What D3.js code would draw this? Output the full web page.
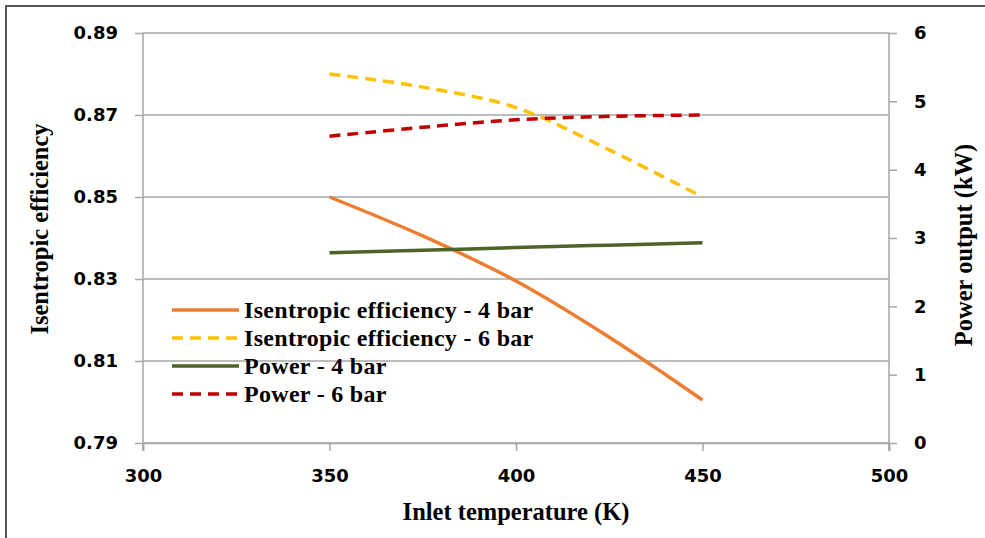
<!DOCTYPE html>
<html>
<head>
<meta charset="utf-8">
<script src="https://cdn.jsdelivr.net/npm/d3@7"></script>
<style>
  html, body { margin: 0; padding: 0; background: #fff; }
  svg { display: block; }
</style>
</head>
<body>
<svg id="chart" width="985" height="538"></svg>
<script>
// ---- data ----
const temps = [350, 375, 400, 425, 450];
const eff4bar = [0.850, 0.8405, 0.8295, 0.8158, 0.8005];
const eff6bar = [0.880, 0.8768, 0.8718, 0.8615, 0.8500];
const power4bar = [2.785, 2.82, 2.86, 2.895, 2.93];
const power6bar = [4.49, 4.62, 4.73, 4.78, 4.80];
const xTicks = [300, 350, 400, 450, 500];
const effTicks = [0.79, 0.81, 0.83, 0.85, 0.87, 0.89];
const powerTicks = [0, 1, 2, 3, 4, 5, 6];
const seriesNames = ["Isentropic efficiency - 4 bar", "Isentropic efficiency - 6 bar", "Power - 4 bar", "Power - 6 bar"];

const svg = d3.select("#chart");
const L = 143, R = 889, T = 33, B = 443;
const gridColor = "#A6A6A6";
const tickFont = "DejaVu Sans, Verdana, sans-serif";
const serif = "Liberation Serif, Times New Roman, serif";

// frame
svg.append("rect").attr("x", 6).attr("y", 6).attr("width", 1000).attr("height", 600)
  .attr("fill", "none").attr("stroke", "#555").attr("stroke-width", 2);

const x = d3.scaleLinear().domain([300, 500]).range([L, R]);
const yL = d3.scaleLinear().domain([0.79, 0.89]).range([B, T]);
const yR = d3.scaleLinear().domain([0, 6]).range([B, T]);

// gridlines
svg.append("g").selectAll("line").data(effTicks).join("line")
  .attr("x1", L).attr("x2", R)
  .attr("y1", d => yL(d)).attr("y2", d => yL(d))
  .attr("stroke", gridColor).attr("stroke-width", 1.5);

// axes
function styleAxis(g) {
  g.select(".domain").attr("stroke", gridColor).attr("stroke-width", 1.5);
  g.selectAll(".tick line").attr("stroke", gridColor).attr("stroke-width", 1.5);
  g.selectAll(".tick text").attr("fill", "#000").attr("font-family", tickFont)
    .attr("font-weight", "bold").attr("font-size", 18);
}
const gx = svg.append("g").attr("transform", `translate(0,${B})`)
  .call(d3.axisBottom(x).tickValues(xTicks).tickSizeOuter(0).tickSize(8).tickPadding(18).tickFormat(d3.format("d")));
styleAxis(gx);
const gl = svg.append("g").attr("transform", `translate(${L},0)`)
  .call(d3.axisLeft(yL).tickValues(effTicks).tickSizeOuter(0).tickSize(8).tickPadding(17).tickFormat(d3.format(".2f")));
styleAxis(gl);
gl.select(".domain").attr("d", `M0,${T}V${B + 8}`);
const gr = svg.append("g").attr("transform", `translate(${R},0)`)
  .call(d3.axisRight(yR).tickValues(powerTicks).tickSizeOuter(0).tickSize(8).tickPadding(17).tickFormat(d3.format("d")));
styleAxis(gr);
gr.select(".domain").attr("d", `M0,${T}V${B + 8}`);

// titles
const titleSize = 24.5;
svg.append("text").attr("x", 516).attr("y", 520).attr("text-anchor", "middle")
  .attr("font-family", serif).attr("font-weight", "bold").attr("font-size", titleSize)
  .text("Inlet temperature  (K)");
svg.append("text").attr("transform", "translate(48,229) rotate(-90)").attr("text-anchor", "middle")
  .attr("font-family", serif).attr("font-weight", "bold").attr("font-size", titleSize)
  .text("Isentropic efficiency");
svg.append("text").attr("transform", "translate(972,245) rotate(-90)").attr("text-anchor", "middle")
  .attr("font-family", serif).attr("font-weight", "bold").attr("font-size", titleSize)
  .text("Power output  (kW)");

// series
const series = [
  { vals: eff4bar, scale: yL, color: "#ED7D31", dash: null },
  { vals: eff6bar, scale: yL, color: "#FFC000", dash: "11,7" },
  { vals: power4bar, scale: yR, color: "#4F6228", dash: null },
  { vals: power6bar, scale: yR, color: "#C00000", dash: "11,7" }
];
series.forEach(s => {
  const line = d3.line().x((d, i) => x(temps[i])).y(d => s.scale(d)).curve(d3.curveCatmullRom.alpha(0.5));
  svg.append("path").datum(s.vals).attr("d", line)
    .attr("fill", "none").attr("stroke", s.color).attr("stroke-width", 3.5)
    .attr("stroke-dasharray", s.dash);
});

// legend
const leg = svg.append("g");
series.forEach((s, i) => {
  const yy = 310 + i * 28;
  leg.append("line").attr("x1", 172).attr("x2", 239).attr("y1", yy).attr("y2", yy)
    .attr("stroke", s.color).attr("stroke-width", 3.5).attr("stroke-dasharray", s.dash);
  leg.append("text").attr("x", 244).attr("y", yy + 8)
    .attr("font-family", serif).attr("font-weight", "bold").attr("font-size", 24)
    .attr("letter-spacing", 0.3)
    .attr("fill", "#000").text(seriesNames[i]);
});
</script>
</body>
</html>
